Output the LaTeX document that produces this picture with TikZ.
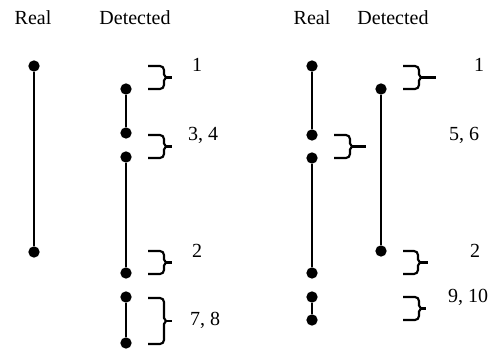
\documentclass[tikz,border=0pt]{standalone}
\usepackage{fontspec}
\setmainfont{Liberation Serif}
\tikzstyle{pt}=[circle,fill=black,draw=none,inner sep=0pt,minimum size=8.5pt]
\tikzstyle{seg}=[line width=1.7pt]
\tikzstyle{brc}=[line width=1.6pt]
\tikzstyle{lbl}=[font=\fontsize{15}{18}\selectfont,inner sep=0pt]
% brace: left x, top y, bottom y, spine x, tip x
\newcommand{\grpbrace}[5]{%
  \draw[brc] (#1,#2) [rounded corners=3pt] -- (#4,#2) [sharp corners] -- (#4,{(#2+#3)/2-3}) -- ({#4+2},{(#2+#3)/2});
  \draw[brc] (#1,#3) [rounded corners=3pt] -- (#4,#3) [sharp corners] -- (#4,{(#2+#3)/2+3}) -- ({#4+2},{(#2+#3)/2});
  \draw[brc] ({#4+1},{(#2+#3)/2}) -- (#5,{(#2+#3)/2});}
\begin{document}
\begin{tikzpicture}[x=0.75pt,y=-0.75pt]
    \useasboundingbox (0,0) rectangle (492,352);
    % left panel
    \node [style=lbl] (rl) at (33, 18) {Real};
    \node [style=lbl] (dl) at (135, 18) {Detected};
    \node [style=pt] (r1) at (34, 66) {};
    \node [style=pt] (r2) at (34, 252) {};
    \node [style=pt] (d1) at (126, 89) {};
    \node [style=pt] (d2) at (126, 133) {};
    \node [style=pt] (d3) at (126, 157) {};
    \node [style=pt] (d4) at (126, 273) {};
    \node [style=pt] (d5) at (126, 297) {};
    \node [style=pt] (d6) at (126, 343) {};
    \draw [style=seg] (r1) to (r2);
    \draw [style=seg] (d1) to (d2);
    \draw [style=seg] (d3) to (d4);
    \draw [style=seg] (d5) to (d6);
    \grpbrace{148}{66}{89}{164}{172}
    \grpbrace{148}{135}{158}{164}{172}
    \grpbrace{148}{251}{274}{164}{172}
    \grpbrace{148}{298}{344}{164}{172}
    \node [style=lbl] (g1) at (197, 65) {1};
    \node [style=lbl] (g2) at (203, 135) {3, 4};
    \node [style=lbl] (g3) at (197, 251) {2};
    \node [style=lbl] (g4) at (205, 320) {7, 8};
    % right panel
    \node [style=lbl] (rr) at (312, 18) {Real};
    \node [style=lbl] (dr) at (393, 18) {Detected};
    \node [style=pt] (s1) at (312, 66) {};
    \node [style=pt] (s2) at (312, 135) {};
    \node [style=pt] (s3) at (312, 158) {};
    \node [style=pt] (s4) at (312, 273) {};
    \node [style=pt] (s5) at (312, 297) {};
    \node [style=pt] (s6) at (312, 320) {};
    \node [style=pt] (e1) at (381, 89) {};
    \node [style=pt] (e2) at (381, 251) {};
    \draw [style=seg] (s1) to (s2);
    \draw [style=seg] (s3) to (s4);
    \draw [style=seg] (s5) to (s6);
    \draw [style=seg] (e1) to (e2);
    \grpbrace{403}{66}{89}{419}{436}
    \grpbrace{334}{135}{158}{350}{366}
    \grpbrace{403}{251}{274}{418}{428}
    \grpbrace{403}{297}{320}{419}{426}
    \node [style=lbl] (h1) at (479, 65) {1};
    \node [style=lbl] (h2) at (464, 135) {5, 6};
    \node [style=lbl] (h3) at (475, 251) {2};
    \node [style=lbl] (h4) at (468, 297) {9, 10};
  \end{tikzpicture}
\end{document}
